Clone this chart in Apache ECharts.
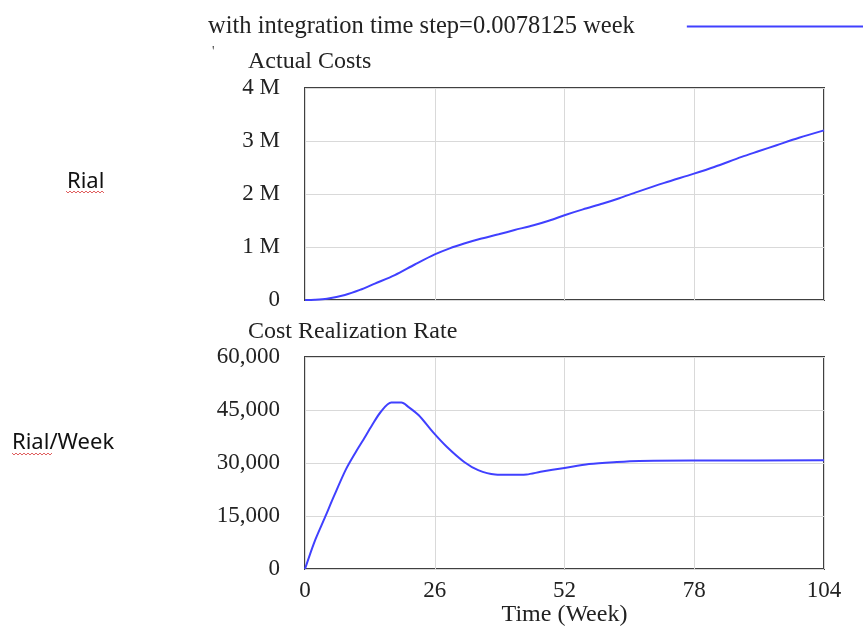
<!DOCTYPE html>
<html>
<head>
<meta charset="utf-8">
<script src="https://cdn.jsdelivr.net/npm/echarts@6/dist/echarts.min.js"></script>
<style>
html,body{margin:0;padding:0;background:#fff;}
#chart{width:863px;height:628px;}
</style>
</head>
<body>
<div id="chart"></div>
<script>
// ---- data ----
var seriesName = 'with integration time step=0.0078125 week';
var xTicks = [0, 26, 52, 78, 104];

var costWeeks  = [0, 2, 4.4, 8, 11, 14, 18, 22, 26, 29, 31.9, 35, 38.8, 42, 45.8, 49, 52, 55.7, 59.7, 63, 66.6, 72, 77.8, 82, 87.5, 91, 94.5, 99, 104];
var costValues = [0, 5000, 25000, 95000, 190000, 310000, 470000, 670000, 860000, 975000, 1065000, 1150000, 1240000, 1320000, 1410000, 1500000, 1600000, 1710000, 1820000, 1920000, 2040000, 2210000, 2380000, 2510000, 2700000, 2810000, 2920000, 3060000, 3200000];

var rateWeeks  = [0, 1.9, 4, 5.8, 8.2, 10.3, 11.7, 13.4, 15.2, 17.3, 19.3, 20.7, 22.8, 25.6, 28.4, 31.9, 34.7, 38.1, 41, 44.4, 47.2, 52, 56.9, 62.5, 67, 80, 104];
var rateValues = [0, 7700, 14600, 20600, 28200, 33400, 36600, 40600, 44500, 47100, 47100, 45900, 43500, 38800, 34600, 30300, 28000, 26750, 26650, 26750, 27500, 28600, 29700, 30300, 30600, 30700, 30750];

var costTicks = ['0', '1 M', '2 M', '3 M', '4 M'];

function pairs(xs, ys) { return xs.map(function (x, i) { return [x, ys[i]]; }); }
function commas(v) { return String(v).replace(/\B(?=(\d{3})+(?!\d))/g, ','); }

var serif = "'Liberation Serif', 'Times New Roman', serif";
var sans = "'Noto Sans', 'Liberation Sans', sans-serif";
var lineColor = '#4040ff';

function zigzag(x0, x1, y) {
  var pts = [], up = true;
  for (var x = x0; x <= x1; x += 2) { pts.push([x, up ? y : y + 2]); up = !up; }
  return pts;
}

var chart = echarts.init(document.getElementById('chart'), null, {renderer: 'canvas'});
var gridCommon = {show: true, borderColor: '#404040', borderWidth: 2, backgroundColor: '#fff'};
var axisLabelY = {color: '#222', fontFamily: serif, fontSize: 23, margin: 25};

chart.setOption({
  animation: false,
  backgroundColor: '#fff',
  legend: {
    left: 203, top: 9,
    align: 'right',
    icon: 'rect',
    itemWidth: 200, itemHeight: 2,
    data: [seriesName],
    textStyle: {color: '#222', fontFamily: serif, fontSize: 24.5, padding: [0, 47, 0, 0]}
  },
  title: [
    {text: 'Actual Costs', left: 243, top: 45, textStyle: {fontFamily: serif, fontSize: 24, fontWeight: 'normal', color: '#222'}},
    {text: 'Cost Realization Rate', left: 243, top: 315, textStyle: {fontFamily: serif, fontSize: 24, fontWeight: 'normal', color: '#222'}},
    {text: 'Rial', left: 67, top: 171, padding: 0, textStyle: {fontFamily: sans, fontSize: 22, fontWeight: 'normal', color: '#111'}},
    {text: 'Rial/Week', left: 12, top: 432, padding: 0, textStyle: {fontFamily: sans, fontSize: 22, fontWeight: 'normal', color: '#111'}},
    {text: '\'', left: 207, top: 40, textStyle: {fontFamily: serif, fontSize: 14, fontWeight: 'normal', color: '#444'}}
  ],
  graphic: [
    {type: 'polyline', shape: {points: zigzag(66, 105, 191)}, style: {stroke: '#e06060', lineWidth: 1, fill: null}},
    {type: 'polyline', shape: {points: zigzag(12, 52, 453)}, style: {stroke: '#e06060', lineWidth: 1, fill: null}}
  ],
  grid: [
    Object.assign({left: 305, top: 88, width: 519, height: 212}, gridCommon),
    Object.assign({left: 305, top: 357, width: 519, height: 213}, gridCommon)
  ],
  xAxis: [
    {gridIndex: 0, type: 'value', min: 0, max: 104, interval: 26,
     axisLine: {show: false}, axisTick: {show: false}, axisLabel: {show: false},
     splitLine: {show: true, lineStyle: {color: '#d9d9d9', width: 1}}},
    {gridIndex: 1, type: 'value', min: 0, max: 104, interval: 26,
     axisLine: {show: false}, axisTick: {show: false},
     axisLabel: {color: '#222', fontFamily: serif, fontSize: 23, margin: 10,
                 formatter: function (v) { return xTicks.indexOf(v) >= 0 ? String(v) : ''; }},
     splitLine: {show: true, lineStyle: {color: '#d9d9d9', width: 1}},
     name: 'Time (Week)', nameLocation: 'middle', nameGap: 34,
     nameTextStyle: {color: '#222', fontFamily: serif, fontSize: 24}}
  ],
  yAxis: [
    {gridIndex: 0, type: 'value', min: 0, max: 4000000, interval: 1000000,
     axisLine: {show: false}, axisTick: {show: false},
     axisLabel: Object.assign({formatter: function (v) { return costTicks[Math.round(v / 1000000)]; }}, axisLabelY),
     splitLine: {show: true, lineStyle: {color: '#d9d9d9', width: 1}}},
    {gridIndex: 1, type: 'value', min: 0, max: 60000, interval: 15000,
     axisLine: {show: false}, axisTick: {show: false},
     axisLabel: Object.assign({formatter: function (v) { return commas(v); }}, axisLabelY),
     splitLine: {show: true, lineStyle: {color: '#d9d9d9', width: 1}}}
  ],
  series: [
    {name: seriesName, type: 'line', xAxisIndex: 0, yAxisIndex: 0, data: pairs(costWeeks, costValues),
     showSymbol: false, smooth: 0.3, lineStyle: {color: lineColor, width: 2}, itemStyle: {color: lineColor}},
    {name: seriesName, type: 'line', xAxisIndex: 1, yAxisIndex: 1, data: pairs(rateWeeks, rateValues),
     showSymbol: false, smooth: 0.3, lineStyle: {color: lineColor, width: 2}, itemStyle: {color: lineColor}}
  ]
});
</script>
</body>
</html>
